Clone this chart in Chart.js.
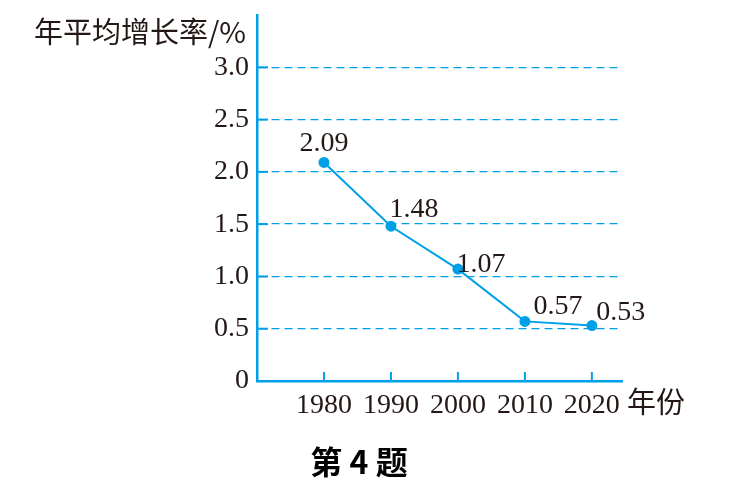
<!DOCTYPE html>
<html>
<head>
<meta charset="utf-8">
<script src="https://cdn.jsdelivr.net/npm/chart.js@4/dist/chart.umd.min.js"></script>
<style>
  html, body { margin: 0; padding: 0; background: #fff; }
  #wrap { width: 729px; height: 491px; }
</style>
</head>
<body>
<div id="wrap"><canvas id="myChart" width="729" height="491"></canvas></div>
<script>
// data
const years = [1980, 1990, 2000, 2010, 2020];
const rates = [2.09, 1.48, 1.07, 0.57, 0.53];
const yTicks = [0, 0.5, 1.0, 1.5, 2.0, 2.5, 3.0];
const yTitle = '年平均增长率/%';
const xTitle = '年份';
const caption = '第 4 题';

const cyan = '#00a0e9';
const ink = '#231815';
const numFont = '"Liberation Serif", "DejaVu Serif", serif';
const cjkFont = '"Noto Sans CJK SC", sans-serif';

// where each value label sits relative to its point
const labelOffsets = [[0, -11], [23, -9], [23, 3], [33, -7], [29, -6]];

const extras = {
    id: 'extras',
    afterDatasetsDraw(chart) {
        const ctx = chart.ctx;
        const xs = chart.scales.x, ys = chart.scales.y;
        ctx.save();
        // inner tick marks
        ctx.strokeStyle = cyan;
        ctx.lineWidth = 2;
        ctx.setLineDash([]);
        yTicks.forEach(v => {
            if (v === 0) return;
            const y = ys.getPixelForValue(v);
            ctx.beginPath();
            ctx.moveTo(xs.left, y);
            ctx.lineTo(xs.left + 11, y);
            ctx.stroke();
        });
        years.forEach(v => {
            const x = xs.getPixelForValue(v);
            ctx.beginPath();
            ctx.moveTo(x, ys.bottom);
            ctx.lineTo(x, ys.bottom - 9);
            ctx.stroke();
        });
        // value labels
        ctx.fillStyle = ink;
        ctx.font = '28px ' + numFont;
        ctx.textAlign = 'center';
        ctx.textBaseline = 'alphabetic';
        rates.forEach((r, i) => {
            const x = xs.getPixelForValue(years[i]);
            const y = ys.getPixelForValue(r);
            ctx.fillText(r.toFixed(2), x + labelOffsets[i][0], y + labelOffsets[i][1]);
        });
        // titles
        ctx.textBaseline = 'middle';
        ctx.textAlign = 'left';
        ctx.font = '29px ' + cjkFont;
        ctx.fillText(yTitle, 34, 32);
        ctx.fillText(xTitle, 627, 402);
        ctx.textAlign = 'center';
        ctx.font = 'bold 32px ' + cjkFont;
        ctx.fillStyle = '#000';
        ctx.fillText(caption, 359, 462);
        ctx.restore();
    }
};

new Chart(document.getElementById('myChart'), {
    type: 'line',
    data: {
        datasets: [{
            data: years.map((y, i) => ({ x: y, y: rates[i] })),
            borderColor: cyan,
            backgroundColor: cyan,
            borderWidth: 2,
            pointRadius: 4.5,
            pointHoverRadius: 4.5,
            tension: 0
        }]
    },
    options: {
        responsive: false,
        animation: false,
        layout: { padding: { top: 15, right: 107, left: 0, bottom: 0 } },
        plugins: { legend: { display: false }, tooltip: { enabled: false } },
        scales: {
            x: {
                type: 'linear',
                min: 1970,
                max: 2024.5,
                afterBuildTicks: s => { s.ticks = years.map(v => ({ value: v })); },
                afterFit: s => { s.height = 110; },
                grid: { drawOnChartArea: false, drawTicks: false },
                border: { color: cyan, width: 2.5 },
                ticks: {
                    padding: 8,
                    color: ink,
                    font: { family: numFont, size: 28 },
                    callback: v => String(v)
                }
            },
            y: {
                min: 0,
                max: 3.5,
                afterBuildTicks: s => { s.ticks = yTicks.map(v => ({ value: v })); },
                afterFit: s => { s.width = 257; s.paddingTop = 0; s.paddingBottom = 0; },
                grid: {
                    drawTicks: false,
                    color: c => (c.tick && c.tick.value > 0) ? cyan : 'transparent',
                    lineWidth: 1.3
                },
                border: { color: cyan, width: 2.5, dash: [8, 5] },
                ticks: {
                    padding: 8,
                    color: ink,
                    font: { family: numFont, size: 28 },
                    callback: v => v === 0 ? '0' : v.toFixed(1)
                }
            }
        }
    },
    plugins: [extras]
});
</script>
</body>
</html>
